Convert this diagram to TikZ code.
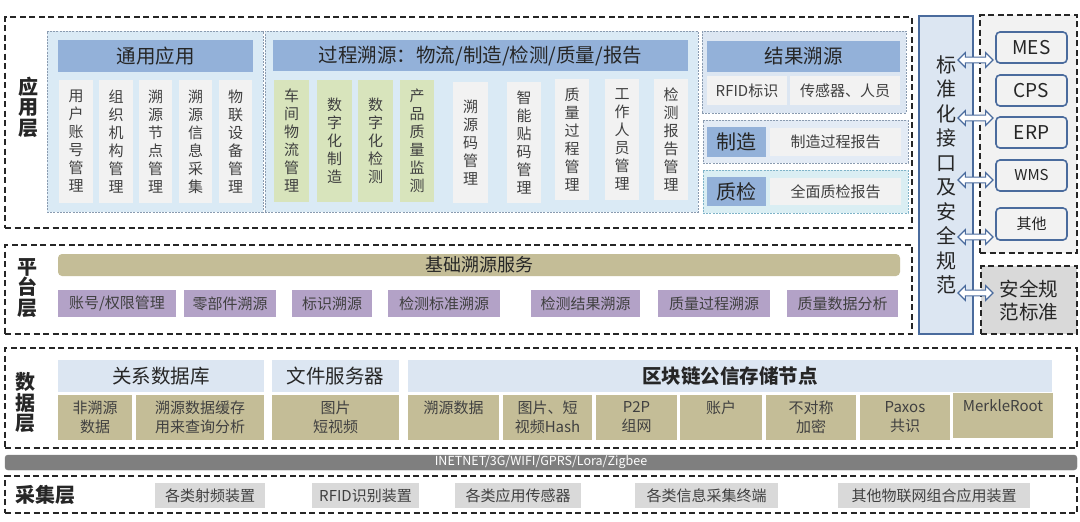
\documentclass[tikz,border=0pt]{standalone}
\usepackage{fontspec}
\setmainfont{Noto Sans CJK SC}
\usetikzlibrary{shapes.arrows}
\definecolor{hblue}{HTML}{93B1D9}
\definecolor{lblue}{HTML}{DCE6F2}
\definecolor{gfill}{HTML}{DAEAF5}
\definecolor{gline}{HTML}{8A9BB0}
\definecolor{cgray}{HTML}{F2F2F2}
\definecolor{cgreen}{HTML}{D8E4BC}
\definecolor{ckhaki}{HTML}{C4BD97}
\definecolor{cpurple}{HTML}{B3A2C7}
\definecolor{cgraytwo}{HTML}{D9D9D9}
\definecolor{barg}{HTML}{7F7F7F}
\definecolor{sblue}{HTML}{4A6B9D}
\definecolor{txt}{HTML}{404040}
\definecolor{dk}{HTML}{262626}
\definecolor{qcyan}{HTML}{DAEEF3}
\definecolor{qline}{HTML}{7FB3C8}
\definecolor{zfill}{HTML}{E3EBF5}
\newcommand\fz[2]{\fontsize{#1}{#2}\selectfont}
\newcommand\bx[7]{\node[#6,minimum width={#4-#2},minimum height={#5-#3}] (#1) at ({(#2+#4)/2},{(#3+#5)/2}) {#7};}
\begin{document}
\begin{tikzpicture}[x=1pt,y=-1pt,
 base/.style={inner sep=0pt,outer sep=0pt,align=center,text=txt},
 layerbox/.style={base,draw=dk,line width=1.3pt,dash pattern=on 6pt off 3.5pt},
 grp/.style={base,draw=gline,line width=0.6pt,dash pattern=on 2pt off 1.2pt,fill=gfill},
 hdr/.style={base,fill=hblue,text=dk,font=\fz{19.5}{22}},
 col/.style={base,fill=cgray,font=\fz{15}{18}},
 gcol/.style={col,fill=cgreen},
 cell/.style={base,fill=cgray,font=\fz{15}{18}},
 lab/.style={base,fill=hblue,text=dk,font=\fz{20}{22}},
 purp/.style={base,fill=cpurple,font=\fz{15}{18}},
 kh/.style={base,fill=ckhaki,font=\fz{15}{19}},
 dhdr/.style={base,fill=lblue,text=dk,font=\fz{19.5}{22}},
 collcell/.style={base,fill=cgraytwo,font=\fz{15}{18}},
 sys/.style={base,draw=sblue,line width=1.6pt,rounded corners=4pt,fill=cgray,text=dk,font=\fz{19}{22}},
 layertxt/.style={base,text=dk,font=\fz{20}{20.5}\bfseries},
 dbl/.style={double arrow,draw=sblue,fill=white,line width=1.1pt,inner sep=2.3pt,double arrow head extend=4.5pt,minimum height=35pt,minimum width=14pt,outer sep=0pt}
]
\useasboundingbox (0,0) rectangle (1080,522);
\fill[white] (0,0) rectangle (1080,522);
% layers
\bx{app}{5}{17}{912}{228}{layerbox}{}
\bx{plat}{5}{245}{912}{334}{layerbox}{}
\bx{data}{5}{348}{1077}{448}{layerbox}{}
\bx{collbox}{5}{476}{1077}{513}{layerbox}{}
\bx{net}{5}{455}{1077}{470}{base,fill=barg,draw=gray,rounded corners=3pt,text=white,font=\fz{12.5}{14}}{INETNET/3G/WIFI/GPRS/Lora/Zigbee}
\bx{sysbox}{980}{15}{1077}{253}{layerbox,fill=cgray}{}
\bx{sec}{981}{266}{1077}{334}{layerbox,fill=cgraytwo,text=dk,font=\fz{19.5}{23}}{安全规\\范标准}
\bx{std}{919}{16}{973}{334}{base,fill=lblue,draw=sblue,line width=1.6pt,text=dk,font=\fz{20}{24.5}}{标\\准\\化\\接\\口\\及\\安\\全\\规\\范}
% layer labels
\node[layertxt] (lapp) at (28,107) {应\\用\\层};
\node[layertxt] (lplat) at (27,288) {平\\台\\层};
\node[layertxt] (ldata) at (26,403) {数\\据\\层};
\node[layertxt] (lcoll) at (46,495) {采集层};
% application groups
\bx{g1}{47}{31}{263}{212}{grp}{}
\bx{g2}{265}{31}{698}{212}{grp}{}
\bx{g3}{702}{31}{906}{113}{grp,fill=lblue}{}
\bx{g4}{703}{120}{908}{163}{grp,fill=zfill}{}
\bx{g5}{703}{170}{908}{213}{grp,fill=qcyan,draw=qline}{}
\bx{h1}{58}{40}{253}{72}{hdr}{通用应用}
\bx{h2}{273}{40}{688}{71}{hdr}{过程溯源：物流/制造/检测/质量/报告}
\bx{h3}{707}{41}{900}{72}{hdr}{结果溯源}
\bx{c1}{59}{80}{93}{203}{col}{用\\户\\账\\号\\管\\理}
\bx{c2}{99}{80}{133}{203}{col}{组\\织\\机\\构\\管\\理}
\bx{c3}{139}{80}{172}{203}{col}{溯\\源\\节\\点\\管\\理}
\bx{c4}{179}{80}{212}{203}{col}{溯\\源\\信\\息\\采\\集}
\bx{c5}{219}{80}{252}{203}{col}{物\\联\\设\\备\\管\\理}
\bx{p1}{274}{80}{309}{202}{gcol}{车\\间\\物\\流\\管\\理}
\bx{p2}{317}{80}{352}{202}{gcol}{数\\字\\化\\制\\造}
\bx{p3}{358}{80}{393}{202}{gcol}{数\\字\\化\\检\\测}
\bx{p4}{400}{80}{434}{202}{gcol}{产\\品\\质\\量\\监\\测}
\bx{p5}{453}{82}{488}{203}{col}{溯\\源\\码\\管\\理}
\bx{p6}{507}{82}{541}{203}{col}{智\\能\\贴\\码\\管\\理}
\bx{p7}{555}{79}{589}{200}{col}{质\\量\\过\\程\\管\\理}
\bx{p8}{605}{79}{639}{200}{col}{工\\作\\人\\员\\管\\理}
\bx{p9}{654}{79}{688}{200}{col}{检\\测\\报\\告\\管\\理}
\bx{r1}{707}{76}{787}{105}{cell}{RFID标识}
\bx{r2}{790}{76}{900}{105}{cell}{传感器、人员}
\bx{z1}{707}{127}{766}{157}{lab}{制造}
\bx{z2}{770}{128}{901}{156}{cell}{制造过程报告}
\bx{q1}{707}{177}{766}{206}{lab}{质检}
\bx{q2}{770}{178}{901}{205}{cell}{全面质检报告}
% external systems
\bx{mes}{996}{32}{1067}{63}{sys}{MES}
\bx{cps}{996}{75}{1067}{106}{sys}{CPS}
\bx{erp}{996}{117}{1067}{148}{sys}{ERP}
\bx{wms}{996}{160}{1067}{191}{sys,font=\fz{15}{18}}{WMS}
\bx{oth}{996}{208}{1067}{240}{sys,font=\fz{15}{18}}{其他}
% platform
\bx{found}{58}{254}{900}{276}{base,fill=ckhaki,rounded corners=4pt,text=dk,font=\fz{18}{20}}{基础溯源服务}
\bx{s1}{58}{290}{176}{317}{purp}{账号/权限管理}
\bx{s2}{184}{290}{276}{317}{purp}{零部件溯源}
\bx{s3}{292}{290}{372}{317}{purp}{标识溯源}
\bx{s4}{388}{290}{500}{317}{purp}{检测标准溯源}
\bx{s5}{531}{290}{640}{317}{purp}{检测结果溯源}
\bx{s6}{658}{290}{770}{317}{purp}{质量过程溯源}
\bx{s7}{787}{290}{898}{317}{purp}{质量数据分析}
% data
\bx{d1}{58}{360}{264}{392}{dhdr}{关系数据库}
\bx{d2}{272}{360}{399}{392}{dhdr}{文件服务器}
\bx{d3}{408}{360}{1052}{392}{dhdr,font=\fz{19.5}{22}\bfseries}{区块链公信存储节点}
\bx{k1}{58}{395}{132}{440}{kh}{非溯源\\数据}
\bx{k2}{136}{395}{264}{440}{kh}{溯源数据缓存\\用来查询分析}
\bx{k3}{272}{395}{399}{440}{kh}{图片\\短视频}
\bx{k4}{408}{395}{499}{440}{kh}{溯源数据\\\phantom{数}}
\bx{k5}{503}{395}{592}{440}{kh}{图片、短\\视频Hash}
\bx{k6}{596}{395}{677}{440}{kh}{P2P\\组网}
\bx{k7}{680}{395}{762}{440}{kh}{账户\\\phantom{账}}
\bx{k8}{766}{395}{856}{440}{kh}{不对称\\加密}
\bx{k9}{860}{395}{950}{440}{kh}{Paxos\\共识}
\bx{k10}{953}{393}{1053}{438}{kh}{MerkleRoot\\\phantom{M}}
% collection
\bx{e1}{155}{483}{265}{508}{collcell}{各类射频装置}
\bx{e2}{312}{483}{419}{508}{collcell}{RFID识别装置}
\bx{e3}{455}{483}{581}{508}{collcell}{各类应用传感器}
\bx{e4}{635}{483}{778}{508}{collcell}{各类信息采集终端}
\bx{e5}{838}{483}{1030}{508}{collcell}{其他物联网组合应用装置}
% interface arrows
\node[dbl] (a1) at (975.5,60) {};
\node[dbl] (a2) at (975.5,118) {};
\node[dbl] (a3) at (975.5,180) {};
\node[dbl] (a4) at (975.5,237) {};
\node[dbl] (a5) at (975.5,293) {};
\end{tikzpicture}
\end{document}
